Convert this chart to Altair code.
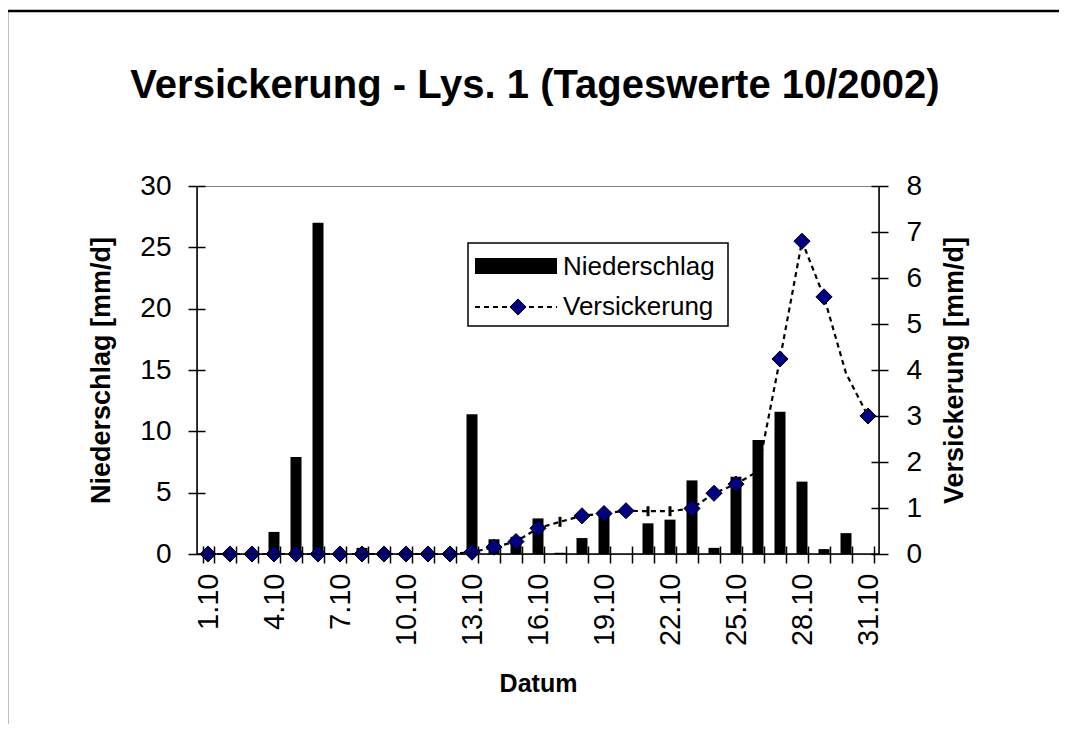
import altair as alt
import pandas as pd

# ---- data ----
datum = ["1.10", "2.10", "3.10", "4.10", "5.10", "6.10", "7.10", "8.10", "9.10", "10.10",
         "11.10", "12.10", "13.10", "14.10", "15.10", "16.10", "17.10", "18.10", "19.10", "20.10",
         "21.10", "22.10", "23.10", "24.10", "25.10", "26.10", "27.10", "28.10", "29.10", "30.10",
         "31.10"]
niederschlag = [0, 0, 0, 1.8, 7.9, 27.0, 0, 0.5, 0, 0,
                0, 0, 11.4, 1.2, 1.4, 2.9, 0.1, 1.3, 3.2, 0,
                2.5, 2.8, 6.0, 0.5, 6.3, 9.3, 11.6, 5.9, 0.4, 1.7,
                0]
versickerung = [0, 0, 0, 0, 0, 0, 0, 0, 0, 0,
                0, 0, 0.04, 0.15, 0.27, 0.56, 0.70, 0.83, 0.88, 0.94,
                0.93, 0.93, 0.99, 1.32, 1.52, 1.80, 4.24, 6.80, 5.59, 3.93,
                3.00]
# 1 = diamond marker visible, 2 = only a small tick visible, 0 = no marker
marker = [1, 1, 1, 1, 1, 1, 1, 1, 1, 1,
          1, 1, 1, 1, 1, 1, 2, 1, 1, 1,
          2, 2, 1, 1, 1, 0, 1, 1, 1, 0,
          1]
shown_labels = ["1.10", "4.10", "7.10", "10.10", "13.10", "16.10", "19.10", "22.10",
                "25.10", "28.10", "31.10"]
left_ticks = [0, 5, 10, 15, 20, 25, 30]
right_ticks = [0, 1, 2, 3, 4, 5, 6, 7, 8]
legend_labels = ["Niederschlag", "Versickerung"]
title_text = ["Versickerung - Lys. 1 (Tageswerte 10/2002)"]

df = pd.DataFrame({"Datum": datum, "Niederschlag": niederschlag,
                   "Versickerung": versickerung, "Marker": marker})

W, H = 682, 368
FONT = "Liberation Sans"
NAVY = "#000080"

label_list = "[" + ",".join("'" + s + "'" for s in shown_labels) + "]"

x_enc = alt.X(
    "Datum:O", sort=datum,
    scale=alt.Scale(paddingInner=0.5, paddingOuter=0.25),
    axis=alt.Axis(
        title="Datum", offset=-8, tickSize=17, domain=False, grid=False,
        tickBand="extent", tickColor="black", tickWidth=1.5,
        labelAngle=270, labelAlign="right", labelBaseline="middle",
        labelPadding=10, labelOverlap=False,
        labelExpr="indexof(" + label_list + ", datum.value) >= 0 ? datum.value : ''",
        labelFontSize=29, labelColor="black", labelFont=FONT,
        titleFontSize=25, titleFontWeight="bold", titleColor="black", titleFont=FONT,
        titleX=W / 2, titleY=137, titleAlign="center", titleBaseline="middle",
    ),
)

bars = alt.Chart(df).mark_bar(color="black").encode(
    x=x_enc,
    y=alt.Y("Niederschlag:Q", scale=alt.Scale(domain=[0, 30], nice=False),
            axis=alt.Axis(
                orient="left", values=left_ticks, offset=-8, tickSize=17,
                domain=False, grid=False, tickColor="black", tickWidth=1.5,
                labelPadding=17, labelFontSize=28, labelColor="black", labelFont=FONT,
                title="Niederschlag [mm/d]", titleFontSize=27, titleFontWeight="bold",
                titleColor="black", titleFont=FONT, titleAngle=270,
                titleX=-104, titleY=H / 2, titleAlign="center", titleBaseline="middle",
            )),
)

line = alt.Chart(df).mark_line(color="black", strokeWidth=2.2, strokeDash=[5, 4]).encode(
    x=x_enc,
    y=alt.Y("Versickerung:Q", scale=alt.Scale(domain=[0, 8], nice=False), axis=None),
)

points = alt.Chart(df).transform_filter("datum.Marker == 1").mark_point(
    shape="diamond", filled=True, fill=NAVY, stroke="black", strokeWidth=1,
    size=260, opacity=1,
).encode(
    x=x_enc,
    y=alt.Y("Versickerung:Q", scale=alt.Scale(domain=[0, 8], nice=False),
            axis=alt.Axis(
                orient="right", values=right_ticks, offset=-8, tickSize=17,
                domain=False, grid=False, tickColor="black", tickWidth=1.5,
                labelPadding=18, labelFontSize=28, labelColor="black", labelFont=FONT,
                title="Versickerung [mm/d]", titleFontSize=27, titleFontWeight="bold",
                titleColor="black", titleFont=FONT, titleAngle=270,
                titleX=83, titleY=H / 2, titleAlign="center", titleBaseline="middle",
            )),
)

ticks_only = alt.Chart(df).transform_filter("datum.Marker == 2").mark_point(
    shape="M0,-1L0,1", stroke="black", strokeWidth=3, size=100, opacity=1,
).encode(
    x=x_enc,
    y=alt.Y("Versickerung:Q", scale=alt.Scale(domain=[0, 8], nice=False), axis=None),
)

one = alt.Data(values=[{"k": 0}])

dom_left = alt.Chart(one).mark_rule(color="black", strokeWidth=1.5).encode(
    x=alt.value(0), y=alt.value(0), y2=alt.value(H))
dom_right = alt.Chart(one).mark_rule(color="black", strokeWidth=1.5).encode(
    x=alt.value(W), y=alt.value(0), y2=alt.value(H))
dom_bottom = alt.Chart(one).mark_rule(color="black", strokeWidth=1.5).encode(
    y=alt.value(H), x=alt.value(0), x2=alt.value(W))

# legend (drawn by hand)
leg_box = alt.Chart(one).mark_rect(fill="white", stroke="black", strokeWidth=1.5).encode(
    x=alt.value(271), x2=alt.value(531), y=alt.value(57), y2=alt.value(140))
leg_bar = alt.Chart(one).mark_rect(fill="black").encode(
    x=alt.value(278), x2=alt.value(360), y=alt.value(72), y2=alt.value(88))
leg_line = alt.Chart(one).mark_rule(color="black", strokeWidth=2.2, strokeDash=[5, 4]).encode(
    x=alt.value(278), x2=alt.value(360), y=alt.value(121))
leg_pt = alt.Chart(one).mark_point(
    shape="diamond", filled=True, fill=NAVY, stroke="black", strokeWidth=1, size=260, opacity=1
).encode(x=alt.value(321), y=alt.value(121))
leg_t1 = alt.Chart(one).mark_text(
    text=legend_labels[0], align="left", baseline="middle", fontSize=26, font=FONT, color="black"
).encode(x=alt.value(366), y=alt.value(81))
leg_t2 = alt.Chart(one).mark_text(
    text=legend_labels[1], align="left", baseline="middle", fontSize=26, font=FONT, color="black"
).encode(x=alt.value(366), y=alt.value(121))

title = alt.Chart(one).mark_text(
    text=title_text[0], align="center", baseline="alphabetic", fontSize=40,
    fontWeight="bold", font=FONT, color="black"
).encode(x=alt.value(W / 2 - 3), y=alt.value(-88))

frame = alt.Chart(one).mark_rect(fillOpacity=0, stroke="black", strokeWidth=2.5).encode(
    x=alt.value(-190), x2=alt.value(1000), y=alt.value(-175), y2=alt.value(700))

chart = alt.layer(
    line, bars, points, ticks_only, dom_left, dom_right, dom_bottom,
    leg_box, leg_bar, leg_line, leg_pt, leg_t1, leg_t2, title, frame,
).resolve_scale(y="independent").properties(
    width=W, height=H,
    padding={"left": 189, "top": 178, "right": 180, "bottom": 170},
    autosize=alt.AutoSizeParams(type="none"),
).configure(font=FONT).configure_view(stroke="#808080", strokeWidth=1)

chart.save("out.html", embed_options={"renderer": "svg", "actions": False})
